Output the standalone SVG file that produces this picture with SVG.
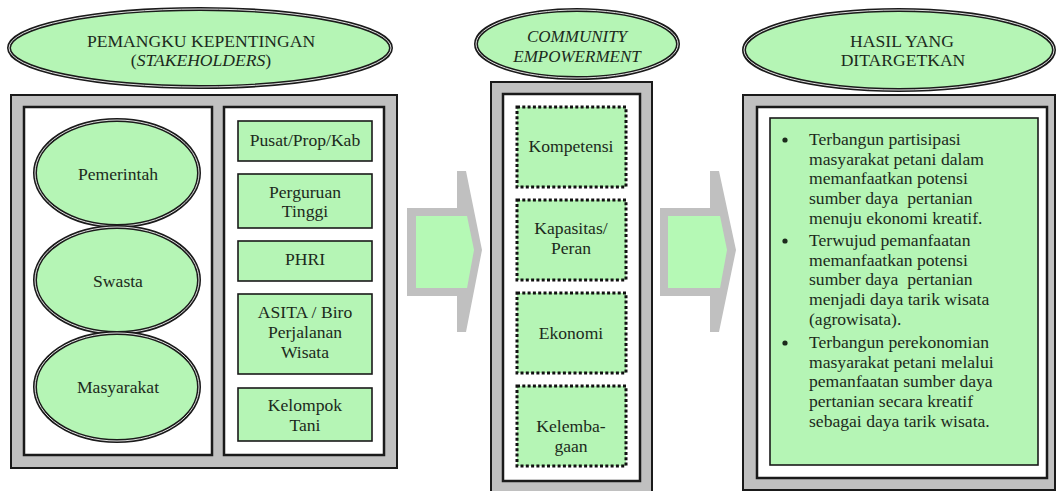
<svg xmlns="http://www.w3.org/2000/svg" width="1056" height="491" viewBox="0 0 1056 491">
<style>
text{font-family:"Liberation Serif","Times New Roman",serif;font-size:17.6px;fill:#1c2a1c;text-anchor:middle}
.it{font-style:italic;font-size:17px}
.l{text-anchor:start}
.gray{fill:#c0c0c0;stroke:#1a1a1a;stroke-width:2}
.white{fill:#ffffff;stroke:#1a1a1a;stroke-width:2.5}
.gbox{fill:#b5f5b5;stroke:#1a1a1a;stroke-width:1.6}
.dbox{fill:#b5f5b5;stroke:#111;stroke-width:3;stroke-dasharray:3 2.3}
.el1{fill:#b5f5b5;stroke:#1a1a1a;stroke-width:4}
.el2{fill:none;stroke:#e0e0e0;stroke-width:1}
.arr{fill:#c0c0c0}
.arrin{fill:#b5f9b5}
</style>

<!-- panel backgrounds -->
<g id="panel-left">
<rect class="gray" x="11" y="95" width="386" height="373"/>
<rect class="white" x="24" y="107" width="188" height="348"/>
<rect class="white" x="224" y="107" width="160" height="348"/>
</g>
<g id="panel-mid">
<rect class="gray" x="491" y="82" width="161" height="420"/>
<rect class="white" x="503" y="94" width="137" height="387"/>
</g>
<g id="panel-right">
<rect class="gray" x="743" y="95" width="312" height="395"/>
<rect class="white" x="757" y="107" width="290" height="371"/>
</g>

<!-- headers -->
<g id="hdr-stakeholders">
<ellipse class="el1" cx="200" cy="48" rx="191" ry="39"/>
<ellipse class="el2" cx="200" cy="48" rx="191" ry="39"/>
<text x="201" y="47">PEMANGKU KEPENTINGAN</text>
<text x="201" y="66">(<tspan font-style="italic">STAKEHOLDERS</tspan>)</text>
</g>
<g id="hdr-community">
<ellipse class="el1" cx="577" cy="44" rx="101" ry="34"/>
<ellipse class="el2" cx="577" cy="44" rx="101" ry="34"/>
<text class="it" x="577" y="42">COMMUNITY</text>
<text class="it" x="577" y="62">EMPOWERMENT</text>
</g>
<g id="hdr-hasil">
<ellipse class="el1" cx="899" cy="50" rx="155" ry="40"/>
<ellipse class="el2" cx="899" cy="50" rx="155" ry="40"/>
<text x="902" y="47">HASIL YANG</text>
<text x="903" y="66">DITARGETKAN</text>
</g>

<!-- left ellipses -->
<g id="pemerintah">
<ellipse class="el1" cx="117" cy="173" rx="82" ry="53"/>
<ellipse class="el2" cx="117" cy="173" rx="82" ry="53"/>
<text x="118" y="180">Pemerintah</text>
</g>
<g id="swasta">
<ellipse class="el1" cx="117" cy="280" rx="82" ry="53"/>
<ellipse class="el2" cx="117" cy="280" rx="82" ry="53"/>
<text x="118" y="287">Swasta</text>
</g>
<g id="masyarakat">
<ellipse class="el1" cx="117" cy="387" rx="82" ry="54"/>
<ellipse class="el2" cx="117" cy="387" rx="82" ry="54"/>
<text x="118" y="393">Masyarakat</text>
</g>

<!-- left boxes -->
<g id="pusat">
<rect class="gbox" x="238" y="121" width="134" height="40"/>
<text x="305" y="146">Pusat/Prop/Kab</text>
</g>
<g id="perguruan">
<rect class="gbox" x="238" y="174" width="134" height="54"/>
<text x="305" y="198">Perguruan</text>
<text x="305" y="217">Tinggi</text>
</g>
<g id="phri">
<rect class="gbox" x="238" y="241" width="134" height="40"/>
<text x="305" y="265">PHRI</text>
</g>
<g id="asita">
<rect class="gbox" x="238" y="294" width="134" height="80"/>
<text x="305" y="318">ASITA / Biro</text>
<text x="305" y="338">Perjalanan</text>
<text x="305" y="358">Wisata</text>
</g>
<g id="kelompok">
<rect class="gbox" x="238" y="388" width="134" height="53"/>
<text x="305" y="411">Kelompok</text>
<text x="305" y="431">Tani</text>
</g>

<!-- middle dotted boxes -->
<g id="kompetensi">
<rect class="dbox" x="517" y="107" width="109" height="80"/>
<text x="571" y="152">Kompetensi</text>
</g>
<g id="kapasitas">
<rect class="dbox" x="517" y="200" width="109" height="80"/>
<text x="571" y="234">Kapasitas/</text>
<text x="571" y="254">Peran</text>
</g>
<g id="ekonomi">
<rect class="dbox" x="517" y="293" width="109" height="80"/>
<text x="571" y="339">Ekonomi</text>
</g>
<g id="kelembagaan">
<rect class="dbox" x="517" y="386" width="109" height="80"/>
<text x="571" y="432">Kelemba-</text>
<text x="571" y="452">gaan</text>
</g>

<!-- results box -->
<g id="hasil">
<rect class="gbox" x="770" y="118" width="268" height="347"/>
<g fill="#1c2a1c">
<circle cx="785" cy="140" r="2.6"/>
<circle cx="785" cy="241" r="2.6"/>
<circle cx="785" cy="343" r="2.6"/>
</g>
<text class="l" x="809" y="145">Terbangun partisipasi</text>
<text class="l" x="809" y="164.7">masyarakat petani dalam</text>
<text class="l" x="809" y="184.4">memanfaatkan potensi</text>
<text class="l" x="809" y="204.1" xml:space="preserve">sumber daya  pertanian</text>
<text class="l" x="809" y="223.8">menuju ekonomi kreatif.</text>
<text class="l" x="809" y="246">Terwujud pemanfaatan</text>
<text class="l" x="809" y="265.7">memanfaatkan potensi</text>
<text class="l" x="809" y="285.4" xml:space="preserve">sumber daya  pertanian</text>
<text class="l" x="809" y="305.1">menjadi daya tarik wisata</text>
<text class="l" x="809" y="324.8">(agrowisata).</text>
<text class="l" x="809" y="348">Terbangun perekonomian</text>
<text class="l" x="809" y="367.7">masyarakat petani melalui</text>
<text class="l" x="809" y="387.4">pemanfaatan sumber daya</text>
<text class="l" x="809" y="407.1">pertanian secara kreatif</text>
<text class="l" x="809" y="426.8">sebagai daya tarik wisata.</text>
</g>

<!-- connectors -->
<g id="connectors">
<polygon class="arr" points="407,208 457,208 457,171 466,171 482,250 466,332 457,332 457,296 407,296"/>
<polygon class="arrin" points="416,216 467,216 474,250 467,288 416,288"/>
<polygon class="arr" points="660,208 710,208 710,171 719,171 736,250 719,332 710,332 710,296 660,296"/>
<polygon class="arrin" points="668,216 720,216 727,250 720,288 668,288"/>
</g>
</svg>
